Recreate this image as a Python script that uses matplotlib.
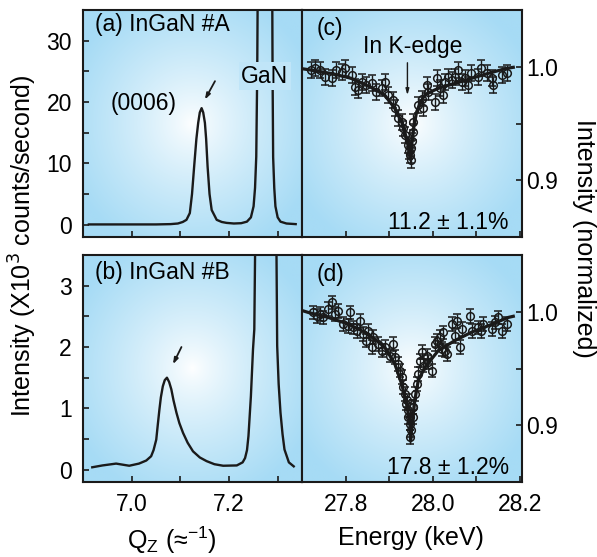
import numpy as np
import matplotlib
matplotlib.use('Agg')
import matplotlib.pyplot as plt
from matplotlib.ticker import FixedLocator, NullFormatter

plt.rcParams['font.family'] = ['Liberation Sans', 'DejaVu Sans']

# ---------------- data ----------------
# (a) InGaN #A : Qz (1/A) vs intensity (x10^3 counts/s)
qa = [6.912, 6.95, 7.00, 7.05, 7.08, 7.095, 7.105, 7.1126, 7.1195, 7.124, 7.1284,
      7.133, 7.1367, 7.140, 7.1437, 7.147, 7.1505, 7.153, 7.156, 7.160, 7.1644,
      7.1747, 7.185, 7.195, 7.21, 7.225, 7.2368, 7.245, 7.2505, 7.2535, 7.256,
      7.258, 7.2595, 7.274, 7.2885, 7.2895, 7.2907, 7.293, 7.2954, 7.300, 7.3058,
      7.318, 7.337]
ia = [0.05, 0.05, 0.05, 0.05, 0.1, 0.2, 0.45, 0.8, 1.9, 5.0, 9.5,
      14.0, 16.6, 18.3, 19.0, 18.3, 16.6, 14.0, 9.5, 5.0, 2.4,
      0.8, 0.45, 0.3, 0.2, 0.25, 0.5, 1.2, 3.0, 6.0, 11.1,
      25.0, 45.0, 400.0, 45.0, 25.0, 11.0, 6.0, 3.0, 1.2, 0.5,
      0.2, 0.1]

# (b) InGaN #B
qb = [6.919, 6.94, 6.968, 6.995, 7.015, 7.030, 7.040, 7.045, 7.0505, 7.0535,
      7.057, 7.060, 7.064, 7.068, 7.0725, 7.077, 7.0815, 7.086, 7.092, 7.098,
      7.1056, 7.115, 7.126, 7.14, 7.154, 7.17, 7.188, 7.216, 7.228, 7.233,
      7.237, 7.240, 7.245, 7.2493, 7.252, 7.2537, 7.276, 7.2975, 7.299, 7.302,
      7.3058, 7.31, 7.314, 7.323, 7.333]
ib = [0.04, 0.07, 0.10, 0.065, 0.10, 0.15, 0.22, 0.32, 0.49, 0.72,
      0.98, 1.18, 1.36, 1.46, 1.50, 1.43, 1.31, 1.13, 0.93, 0.76,
      0.60, 0.44, 0.30, 0.20, 0.14, 0.09, 0.065, 0.07, 0.12, 0.19,
      0.32, 0.55, 1.2, 1.96, 2.29, 3.6, 50.0, 3.6, 2.02, 1.4,
      0.93, 0.58, 0.33, 0.12, 0.055]

# (c) energy scan, sample A
ec = [27.721, 27.7295, 27.741, 27.7525, 27.768, 27.779, 27.791, 27.798, 27.814,
      27.821, 27.829, 27.837, 27.848, 27.860, 27.871, 27.883, 27.890, 27.898,
      27.9095, 27.913, 27.921, 27.9286, 27.9325, 27.936, 27.944, 27.9477,
      27.9465, 27.9495, 27.9505, 27.9525, 27.9555, 27.9555, 27.967, 27.9745,
      27.978, 27.986, 27.990, 28.005, 28.009, 28.0165, 28.024, 28.028, 28.036,
      28.0434, 28.051, 28.059, 28.0664, 28.074, 28.082, 28.089, 28.1047,
      28.112, 28.124, 28.135, 28.139, 28.158, 28.170]
ic = [0.9975, 0.9986, 0.997, 0.9912, 0.9898, 0.997, 0.9956, 0.9986, 0.9927,
      0.9823, 0.9794, 0.9868, 0.9838, 0.9853, 0.9779, 0.981, 0.9868, 0.975,
      0.9706, 0.9633, 0.9545, 0.9515, 0.9456, 0.9397, 0.931, 0.922,
      0.926, 0.9175, 0.928, 0.935, 0.9515, 0.9426, 0.9662, 0.972,
      0.9633, 0.9838, 0.9779, 0.969, 0.9898, 0.981, 0.975, 0.9868, 0.9912,
      0.9883, 0.9912, 0.997, 0.9868, 0.9898, 0.9838, 0.9942, 0.9912,
      0.9986, 0.9942, 0.9898, 0.9838, 0.9927, 0.9942]
err_c = 0.007

fit_ec = [27.705, 27.722, 27.768, 27.813, 27.860, 27.890, 27.913, 27.9286,
          27.940, 27.9477, 27.9495, 27.9516, 27.957, 27.963, 27.972, 27.982,
          27.996, 28.0129, 28.051, 28.0893, 28.1277, 28.170, 28.185]
fit_ic = [0.998, 0.997, 0.994, 0.9898, 0.9815, 0.975, 0.9633, 0.9515,
          0.937, 0.922, 0.918, 0.931, 0.948, 0.960, 0.969, 0.975,
          0.978, 0.981, 0.9853, 0.9898, 0.9942, 0.9986, 0.9995]

# (d) energy scan, sample B
ed = [27.7258, 27.7334, 27.741, 27.7488, 27.760, 27.7679, 27.7754, 27.7832,
      27.7947, 27.806, 27.810, 27.8177, 27.8253, 27.833, 27.8406, 27.848,
      27.852, 27.8597, 27.8636, 27.875, 27.8827, 27.890, 27.9017, 27.9095,
      27.9132, 27.921, 27.9247, 27.9286, 27.9325, 27.936, 27.940, 27.944,
      27.9476, 27.9394, 27.943, 27.947, 27.947, 27.951, 27.9545,
      27.9555, 27.9555, 27.959, 27.963, 27.967, 27.9706, 27.9745, 27.9784,
      27.986, 27.990, 27.9975, 28.005, 28.009, 28.0165, 28.0204, 28.0243,
      28.028, 28.0319, 28.0434, 28.051, 28.0549, 28.0625, 28.0664, 28.0854,
      28.0893, 28.1047, 28.112, 28.1162, 28.135, 28.1428, 28.1506, 28.1582,
      28.170]
id_ = [0.9994, 0.9965, 0.998, 0.995, 1.0024, 1.0082, 0.998, 1.0009,
       0.9892, 0.9877, 0.9994, 0.9862, 0.9833, 0.9921, 0.9804, 0.9746,
       0.9833, 0.9687, 0.9775, 0.9717, 0.9658, 0.9687, 0.9614, 0.9717,
       0.960, 0.9541, 0.9482, 0.9424, 0.9336, 0.9278, 0.9219, 0.9132,
       0.9073, 0.919, 0.9073, 0.9015, 0.8897, 0.8956, 0.916,
       0.916, 0.9073, 0.9278, 0.9366, 0.9453, 0.957, 0.9643, 0.9526,
       0.9614, 0.9555, 0.9482, 0.9717, 0.9746, 0.9775, 0.9673, 0.9818,
       0.9658, 0.9629, 0.9892, 0.9789, 0.9921, 0.9687, 0.9848, 0.9965,
       0.9833, 0.9862, 0.9833, 0.9892, 0.9848, 0.9906, 0.995, 0.9833,
       0.9892]
err_d = 0.006

fit_ed = [27.705, 27.7144, 27.760, 27.806, 27.852, 27.890, 27.913, 27.9286,
          27.940, 27.9476, 27.9493, 27.9516, 27.959, 27.967, 27.982, 28.0129,
          28.051, 28.0893, 28.1277, 28.1736, 28.185]
fit_id = [1.0005, 0.9994, 0.995, 0.9892, 0.9804, 0.9687, 0.9541, 0.9366,
          0.919, 0.9015, 0.886, 0.896, 0.922, 0.9395, 0.951, 0.9658,
          0.9746, 0.982, 0.9877, 0.995, 0.996]

left_xticks = [7.0, 7.2]
left_xminor = [7.1, 7.3]
right_xticks = [27.8, 28.0, 28.2]
right_xminor = [27.9, 28.1]
a_yticks = [0, 10, 20, 30]
a_yminor = [5, 15, 25]
b_yticks = [0, 1, 2, 3]
b_yminor = [0.5, 1.5, 2.5]
r_yticks = [0.9, 1.0]
r_yminor = [0.95]

# ---------------- figure ----------------
FW, FH = 597, 557
fig = plt.figure(figsize=(FW / 100, FH / 100), dpi=100)

def rect(x0, y0, x1, y1):
    return [x0 / FW, 1 - y1 / FH, (x1 - x0) / FW, (y1 - y0) / FH]

axA = fig.add_axes(rect(83, 10, 302, 237))
axC = fig.add_axes(rect(302, 10, 522, 237))
axB = fig.add_axes(rect(83, 255, 302, 482))
axD = fig.add_axes(rect(302, 255, 522, 482))

edge = np.array([166, 219, 245]) / 255.0

def grad_t(X, Y):
    r = np.sqrt(X ** 2 + Y ** 2)
    return np.clip(r / 1.2, 0, 1) ** 0.8

def bg_color(fx, fy):
    t = grad_t(2 * fx - 1, 2 * fy - 1)
    return tuple((1 - t) * np.ones(3) + t * edge)

def add_bg(ax):
    n = 240
    x = np.linspace(-1, 1, n)
    X, Y = np.meshgrid(x, x)
    t = grad_t(X, Y)
    img = (1 - t)[..., None] * np.ones(3) + t[..., None] * edge
    ax.imshow(img, extent=[0, 1, 0, 1], transform=ax.transAxes,
              aspect='auto', zorder=0, interpolation='bilinear')

INK = '#1a1a1a'
TS = 16.5
LS = 18

for ax in (axA, axB, axC, axD):
    add_bg(ax)
    for s in ax.spines.values():
        s.set_linewidth(1.5)
        s.set_color(INK)
        s.set_zorder(5)

def style_left(ax, yt, ym, ylim, showx):
    ax.set_xlim(6.9, 7.35)
    ax.set_ylim(*ylim)
    ax.xaxis.set_major_locator(FixedLocator(left_xticks))
    ax.xaxis.set_minor_locator(FixedLocator(left_xminor))
    ax.yaxis.set_major_locator(FixedLocator(yt))
    ax.yaxis.set_minor_locator(FixedLocator(ym))
    ax.tick_params(which='both', direction='in', length=4, width=1.2,
                   color=INK, top=False, right=False)
    ax.tick_params(axis='y', labelsize=TS, pad=8)
    ax.tick_params(axis='x', labelsize=TS, pad=8, labelbottom=showx)
    ax.xaxis.set_minor_formatter(NullFormatter())
    ax.yaxis.set_minor_formatter(NullFormatter())
    if showx:
        ax.set_xticklabels(['7.0', '7.2'])

def style_right(ax, showx):
    ax.set_xlim(27.70, 28.205)
    ax.set_ylim(0.85, 1.05)
    ax.xaxis.set_major_locator(FixedLocator(right_xticks))
    ax.xaxis.set_minor_locator(FixedLocator(right_xminor))
    ax.yaxis.set_major_locator(FixedLocator(r_yticks))
    ax.yaxis.set_minor_locator(FixedLocator(r_yminor))
    ax.yaxis.tick_right()
    ax.tick_params(which='both', direction='in', length=4, width=1.2,
                   color=INK, top=False, left=False, right=True)
    ax.tick_params(axis='y', labelsize=TS, pad=3, labelright=True, labelleft=False)
    ax.tick_params(axis='x', labelsize=TS, pad=8, labelbottom=showx)
    ax.xaxis.set_minor_formatter(NullFormatter())
    ax.yaxis.set_minor_formatter(NullFormatter())
    ax.set_yticklabels(['0.9', '1.0'])
    if showx:
        ax.set_xticklabels(['27.8', '28.0', '28.2'])

# (a)
axA.plot(qa, ia, color=INK, lw=1.7, zorder=3)
style_left(axA, a_yticks, a_yminor, (-2, 35), False)
axA.text(6.925, 32.6, '(a) InGaN #A', fontsize=TS, ha='left', va='center', zorder=6)
axA.text(7.025, 19.8, '(0006)', fontsize=TS, ha='center', va='center', zorder=6)
gx = (7.2735 - 6.9) / 0.45
gy = (24.2 + 2) / 37
axA.text(7.2735, 24.2, 'GaN', fontsize=TS, ha='center', va='center', zorder=6,
         bbox=dict(boxstyle='square,pad=0.1', fc=bg_color(gx, gy), ec='none'))
axA.annotate('', xy=(7.1505, 20.4), xytext=(7.1712, 23.4),
             arrowprops=dict(arrowstyle='-|>,head_length=0.35,head_width=0.12',
                             color=INK, lw=1.3, shrinkA=0, shrinkB=0), zorder=6)

# (b)
axB.plot(qb, ib, color=INK, lw=1.7, zorder=3)
style_left(axB, b_yticks, b_yminor, (-0.2, 3.5), True)
axB.text(6.925, 3.22, '(b) InGaN #B', fontsize=TS, ha='left', va='center', zorder=6)
axB.annotate('', xy=(7.0849, 1.72), xytext=(7.1023, 2.0),
             arrowprops=dict(arrowstyle='-|>,head_length=0.35,head_width=0.12',
                             color=INK, lw=1.3, shrinkA=0, shrinkB=0), zorder=6)

# (c)
axC.plot(fit_ec, fit_ic, color=INK, lw=2.3, zorder=3)
axC.errorbar(ec, ic, yerr=err_c, fmt='o', ms=5.5, mfc='none', mec=INK, mew=1.1,
             ecolor=INK, elinewidth=1.0, capsize=2.8, capthick=1.0, zorder=4)
style_right(axC, False)
axC.text(27.733, 1.034, '(c)', fontsize=TS, ha='left', va='center', zorder=6)
axC.text(27.954, 1.0175, 'In K-edge', fontsize=TS, ha='center', va='center', zorder=6)
axC.annotate('', xy=(27.942, 0.975), xytext=(27.942, 1.0035),
             arrowprops=dict(arrowstyle='-|>,head_length=0.35,head_width=0.1',
                             color=INK, lw=1.0, shrinkA=0, shrinkB=0), zorder=6)
axC.text(28.036, 0.8627, '11.2 ± 1.1%', fontsize=TS, ha='center', va='center', zorder=6)

# (d)
axD.plot(fit_ed, fit_id, color=INK, lw=2.3, zorder=3)
axD.errorbar(ed, id_, yerr=err_d, fmt='o', ms=5.5, mfc='none', mec=INK, mew=1.1,
             ecolor=INK, elinewidth=1.0, capsize=2.8, capthick=1.0, zorder=4)
style_right(axD, True)
axD.text(27.733, 1.033, '(d)', fontsize=TS, ha='left', va='center', zorder=6)
axD.text(28.036, 0.8625, '17.8 ± 1.2%', fontsize=TS, ha='center', va='center', zorder=6)

# axis labels
fig.text(23 / FW, 1 - 246 / FH, 'Intensity (X10$^3$ counts/second)', rotation=90,
         fontsize=LS, ha='center', va='center')
fig.text(584 / FW, 1 - 238 / FH, 'Intensity (normalized)', rotation=270,
         fontsize=LS, ha='center', va='center')
fig.text(172 / FW, 1 - 540 / FH, 'Q$_\\mathregular{Z}$ (≈$^{\\mathregular{-1}}$)',
         fontsize=LS, ha='center', va='center')
fig.text(411 / FW, 1 - 538 / FH, 'Energy (keV)', fontsize=LS, ha='center', va='center')

fig.savefig('out.png', dpi=100)
